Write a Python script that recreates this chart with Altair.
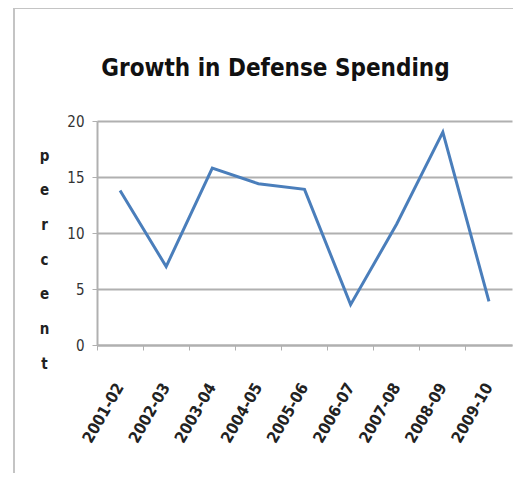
import altair as alt
import pandas as pd

years = ["2001-02", "2002-03", "2003-04", "2004-05", "2005-06",
         "2006-07", "2007-08", "2008-09", "2009-10"]
growth = [13.8, 7.0, 15.8, 14.4, 13.9, 3.6, 10.8, 19.0, 3.9]

df = pd.DataFrame({"year": years, "growth": growth})

FONT = "DejaVu Sans Condensed"

line = alt.Chart(df).mark_line(color="#4a7ebb", strokeWidth=3).encode(
    x=alt.X("year:N", sort=years, bandPosition=0.5,
            scale=alt.Scale(type="band", paddingInner=0, paddingOuter=0),
            axis=alt.Axis(title=None, labelAngle=-60, labelAlign="right",
                          labelBaseline="middle", labelPadding=34,
                          labelFont=FONT, labelFontSize=16,
                          labelFontWeight="bold", labelColor="#222",
                          bandPosition=0, tickColor="#b0b0b0", tickSize=5,
                          domainColor="#b0b0b0", domainWidth=2, grid=False)),
    y=alt.Y("growth:Q", scale=alt.Scale(domain=[0, 20]),
            axis=alt.Axis(values=[0, 5, 10, 15, 20],
                          title=["p", "e", "r", "c", "e", "n", "t"],
                          titleAngle=0, titleFont=FONT,
                          titleFontSize=15, titleFontWeight="bold",
                          titleColor="#222", titleLineHeight=34.7,
                          titleAnchor="start", titleAlign="center",
                          titleBaseline="top", titleX=-53, titleY=27,
                          labelFont=FONT, labelFontSize=15,
                          labelColor="#333", labelPadding=8,
                          tickColor="#b0b0b0", tickSize=5,
                          domainColor="#b0b0b0", domainWidth=2,
                          gridColor="#b0b0b0", gridWidth=2)),
)

border_left = alt.Chart(df).mark_rule(color="#c4c4c4", strokeWidth=2).encode(
    x=alt.value(-83), y=alt.value(-113), y2=alt.value(360))
border_top = alt.Chart(df).mark_rule(color="#c4c4c4", strokeWidth=2).encode(
    x=alt.value(-83), x2=alt.value(424), y=alt.value(-113))

chart = alt.layer(border_left, border_top, line).properties(
    width=415, height=224,
    padding={"left": 89, "top": 113, "right": 1, "bottom": 128},
    autosize=alt.AutoSizeParams(type="none"),
    title=alt.TitleParams("Growth in Defense Spending",
                          font=FONT, fontSize=24,
                          fontWeight="bold", color="#111", anchor="middle",
                          baseline="alphabetic", dx=-29, offset=-93),
).configure_view(stroke=None).configure_axis(labelOverlap=False)

chart.save("out.html", embed_options={"renderer": "svg", "actions": False})
